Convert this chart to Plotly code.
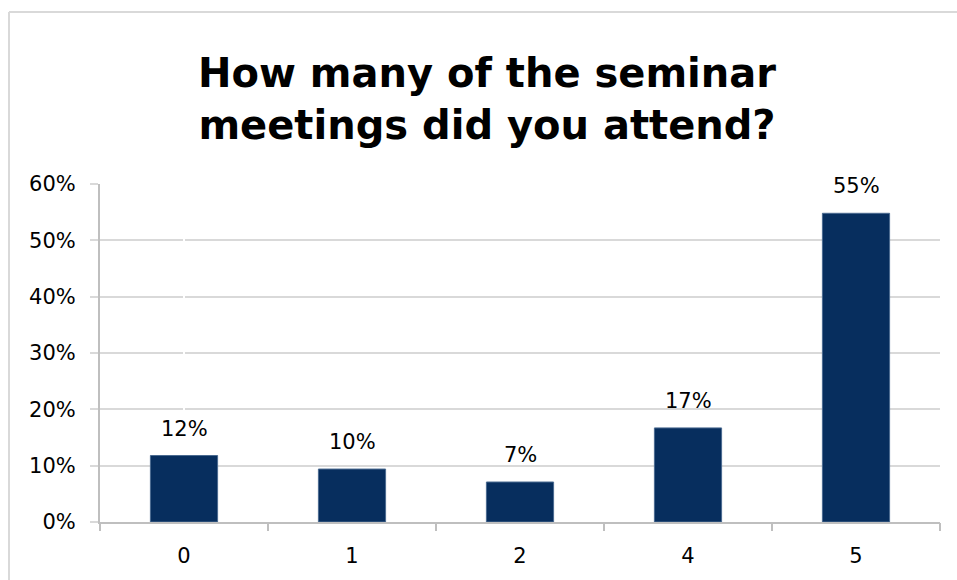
import plotly.graph_objects as go

categories = ["0", "1", "2", "4", "5"]
values = [0.118, 0.094, 0.071, 0.167, 0.548]
labels = ["12%", "10%", "7%", "17%", "55%"]
y_ticks = [0, 0.1, 0.2, 0.3, 0.4, 0.5, 0.6]
y_ticktext = ["0%", "10%", "20%", "30%", "40%", "50%", "60%"]

W, H = 957, 580
ML, MT = 100, 184
MR = W - 940
MB = H - 522
PW, PH = W - ML - MR, H - MT - MB

FONT = "DejaVu Sans"

fig = go.Figure()
fig.add_trace(go.Bar(
    x=list(range(len(categories))), y=values,
    marker=dict(color="#072e5e", line=dict(color="#4a6a90", width=1)),
    width=0.4,
    hoverinfo="skip",
))

for i, (v, t) in enumerate(zip(values, labels)):
    fig.add_annotation(x=i, y=v, text=t, showarrow=False, yanchor="bottom",
                       yshift=13, font=dict(family=FONT, size=21, color="#000000"))

# outer chart border (left and top edges; the rest lies outside the view)
bx = (9 - ML) / PW
by = (H - MB - 12) / PH
fig.add_shape(type="line", xref="paper", yref="paper",
              x0=bx, x1=bx, y0=-(MB + 20) / PH, y1=by,
              line=dict(color="#d9d9d9", width=2), layer="below")
fig.add_shape(type="line", xref="paper", yref="paper",
              x0=bx, x1=(W + 20 - ML) / PW, y0=by, y1=by,
              line=dict(color="#d9d9d9", width=2), layer="below")

fig.update_layout(
    width=W, height=H,
    margin=dict(l=ML, r=MR, t=MT, b=MB),
    paper_bgcolor="white", plot_bgcolor="white",
    showlegend=False,
    title=dict(text="<b>How many of the seminar<br>meetings did you attend?</b>",
               x=487 / W, xanchor="center", y=1 - 87 / H, yanchor="middle",
               font=dict(family=FONT, size=40, color="#000000")),
    font=dict(family=FONT, size=21, color="#000000"),
)
fig.update_xaxes(
    range=[-0.5, len(categories) - 0.5],
    tickvals=list(range(len(categories))), ticktext=categories,
    showline=True, linecolor="#bfbfbf", linewidth=2,
    ticks="", showgrid=False,
    ticklabelstandoff=14,
    tickfont=dict(family=FONT, size=21, color="#000000"),
)
# boundary tick marks on a hidden overlay axis
fig.update_layout(xaxis2=dict(
    overlaying="x", matches="x", side="bottom", anchor="y",
    tickvals=[i - 0.5 for i in range(len(categories) + 1)],
    ticktext=[""] * (len(categories) + 1),
    ticks="outside", ticklen=8, tickcolor="#bfbfbf", tickwidth=2,
    showline=False, showgrid=False,
))
fig.add_trace(go.Scatter(x=[0], y=[0], xaxis="x2", mode="markers",
                         marker=dict(opacity=0), hoverinfo="skip", showlegend=False))
fig.update_yaxes(
    range=[0, 0.6], tickvals=y_ticks, ticktext=y_ticktext,
    showline=True, linecolor="#bfbfbf", linewidth=2,
    ticks="outside", ticklen=8, tickcolor="#d9d9d9", tickwidth=2,
    showgrid=True, gridcolor="#d9d9d9", gridwidth=2, zeroline=False,
    ticklabelstandoff=10,
    tickfont=dict(family=FONT, size=21, color="#000000"),
)

fig.write_html(
    "out.html",
    config={"displayModeBar": False},
    post_script="document.body.style.margin='0';document.body.style.overflow='hidden';",
)
